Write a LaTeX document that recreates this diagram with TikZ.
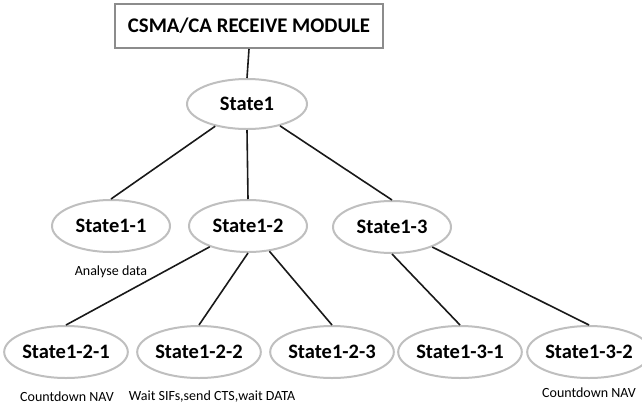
\documentclass[tikz,border=0pt]{standalone}
\usepackage{fontspec}
\setmainfont{Carlito}
\usetikzlibrary{shapes.geometric}
\begin{document}
\begin{tikzpicture}[x=1pt,y=-1pt,
  stnode/.style={ellipse,draw=black!25,line width=2pt,fill=white,minimum width=118pt,minimum height=52pt,inner sep=0pt,font=\fontsize{20.5}{24}\selectfont\bfseries},
  topbox/.style={rectangle,draw=black!45,line width=2pt,fill=white,minimum width=268pt,minimum height=44pt,inner sep=0pt,font=\fontsize{20.8}{24}\selectfont\bfseries},
  conn/.style={draw=black!90,line width=1.6pt},
  note/.style={font=\fontsize{14}{16}\selectfont,inner sep=0pt}]
\useasboundingbox (0,0) rectangle (642,410);
\node[topbox] (top) at (249,26) {CSMA/CA RECEIVE MODULE};
\node[stnode,minimum width=120pt,minimum height=50pt] (s1) at (247,104) {State1};
\node[stnode] (s11) at (111,226) {State1-1};
\node[stnode] (s12) at (248,226) {State1-2};
\node[stnode] (s13) at (392,227) {State1-3};
\node[stnode] (s121) at (66,352) {State1-2-1};
\node[stnode] (s122) at (199,352) {State1-2-2};
\node[stnode] (s123) at (332,352) {State1-2-3};
\node[stnode] (s131) at (460,352) {State1-3-1};
\node[stnode] (s132) at (589,352) {State1-3-2};
\node[note] (n11) at (111,272) {Analyse data};
\node[note] (n121) at (67,397) {Countdown NAV};
\node[note] (n122) at (212,397) {Wait SIFs,send CTS,wait DATA};
\node[note] (n132) at (589,393) {Countdown NAV};
\draw[conn] (top.south) -- (s1.north);
\draw[conn] (s1) -- (s11.north);
\draw[conn] (s1.south) -- (s12.north);
\draw[conn] (s1) -- (s13.north);
\draw[conn] (s12) -- (s121.north);
\draw[conn] (s12.south) -- (s122.north);
\draw[conn] (s12) -- (s123.north);
\draw[conn] (s13.south) -- (s131.north);
\draw[conn] (s13) -- (s132.north);
\end{tikzpicture}
\end{document}
